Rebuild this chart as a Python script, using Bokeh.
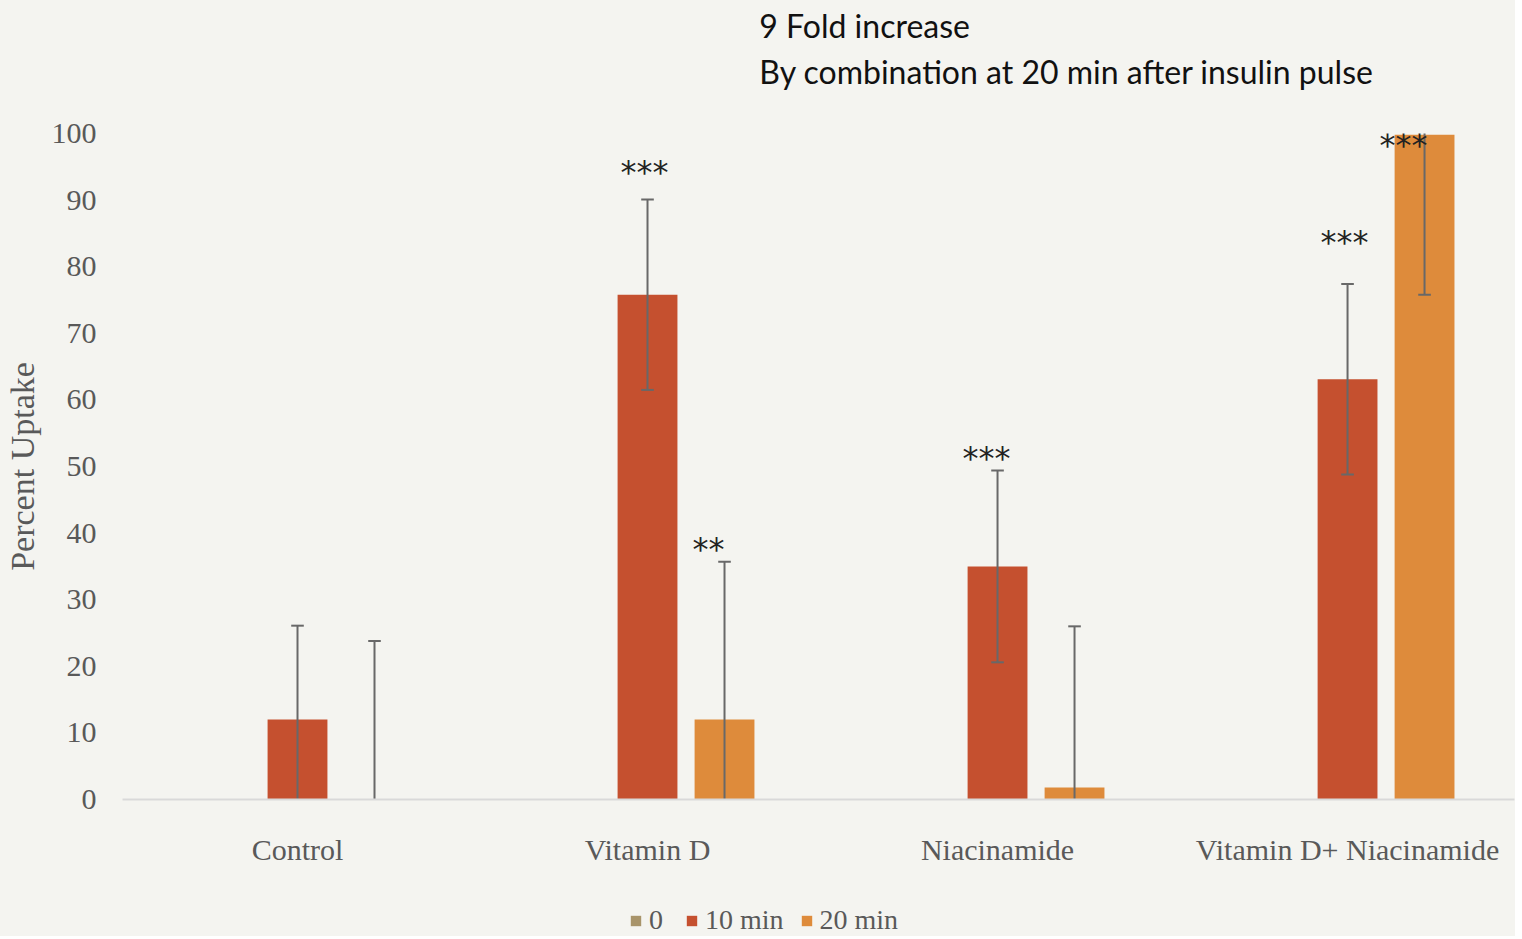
from bokeh.plotting import figure
from bokeh.layouts import column
from bokeh.models import (Range1d, FixedTicker, ColumnDataSource, LabelSet, Label,
                          Legend, LegendItem)
from bokeh.core.properties import value
from bokeh.embed import file_html
from bokeh.resources import INLINE

# ---------------- data ----------------
categories = ["Control", "Vitamin D", "Niacinamide", "Vitamin D+ Niacinamide"]
series_names = ["0", "10 min", "20 min"]
values_0 = [0.0, 0.0, 0.0, 0.0]
values_10 = [12.0, 75.8, 35.0, 63.1]
err_10 = [14.1, 14.3, 14.4, 14.3]
values_20 = [0.0, 12.0, 1.8, 99.8]
err_20 = [23.8, 23.7, 24.2, 24.0]
y_ticks = [0, 10, 20, 30, 40, 50, 60, 70, 80, 90, 100]

# significance marks: (category index, series index, text, height)
star_cat = [1, 1, 2, 3, 3]
star_series = [1, 2, 1, 1, 2]
star_text = ["***", "**", "***", "***", "***"]
star_y = [95.0, 38.3, 52.1, 84.4, 99.0]

title_lines = ["9 Fold increase", "By combination at 20 min after insulin pulse"]

# ---------------- style ----------------
BG = "#f4f4f0"
COL = ["#a8946a", "#c5502f", "#de8b3b"]
OFFS = [-0.22, 0.0, 0.22]
BAR_W = 0.171
ERR_COL = "#686868"
CAP = 0.018
SERIF = "Liberation Serif"
TXT = "#595959"
W = 1506
FW = 1392
TOP_H = 113

# ---------------- title strip ----------------
head = figure(width=W, height=TOP_H, output_backend="svg", toolbar_location=None,
              x_axis_type=None, y_axis_type=None, min_border=0,
              x_range=Range1d(0, FW), y_range=Range1d(TOP_H, 0))
head.background_fill_color = BG
head.border_fill_color = BG
head.outline_line_color = None
head.grid.visible = False
for line, yy in zip(title_lines, [25, 71]):
    head.add_layout(Label(x=641, y=yy, text=line, text_font="Lato",
                          text_font_size="32px", text_color="#111111",
                          text_baseline="alphabetic", text_align="left"))

# ---------------- chart ----------------
chart = figure(frame_width=FW, frame_height=666, output_backend="svg", toolbar_location=None,
               x_range=Range1d(0, 3.977), y_range=Range1d(0, 100),
               min_border_left=113, min_border_right=1, min_border_top=20,
               min_border_bottom=75)
chart.background_fill_color = BG
chart.border_fill_color = BG
chart.outline_line_color = None
chart.grid.visible = False

centers = [i + 0.5 for i in range(len(categories))]
series_vals = [values_0, values_10, values_20]
for k, vals in enumerate(series_vals):
    xs = [c + OFFS[k] for c in centers]
    src = ColumnDataSource(dict(x=xs, top=vals))
    chart.vbar(x="x", top="top", width=BAR_W, source=src,
               fill_color=COL[k], line_color=None)

# error bars
for k, (vals, errs) in enumerate([(values_10, err_10), (values_20, err_20)], start=1):
    xs = [c + OFFS[k] for c in centers]
    lo = [v - e for v, e in zip(vals, errs)]
    hi = [v + e for v, e in zip(vals, errs)]
    chart.segment(x0=xs, x1=xs, y0=lo, y1=hi, line_color=ERR_COL, line_width=2)
    chart.segment(x0=[x - CAP for x in xs], x1=[x + CAP for x in xs], y0=hi, y1=hi,
                  line_color=ERR_COL, line_width=2)
    chart.segment(x0=[x - CAP for x in xs], x1=[x + CAP for x in xs], y0=lo, y1=lo,
                  line_color=ERR_COL, line_width=2)

# stars
star_dx = [-3, -16, -11, -3, -21]
sx = [centers[c] + OFFS[s] for c, s in zip(star_cat, star_series)]
ssrc = ColumnDataSource(dict(x=sx, y=star_y, t=star_text, dx=star_dx))
chart.add_layout(LabelSet(x="x", y="y", text="t", x_offset="dx", y_offset=-5, source=ssrc,
                          text_align="center", text_baseline="middle",
                          text_font=value("DejaVu Sans"), text_font_size="32px",
                          text_color="#222222"))

# axes
chart.xaxis.ticker = FixedTicker(ticks=centers)
chart.xaxis.major_label_overrides = {c: n for c, n in zip(centers, categories)}
chart.xaxis.major_tick_line_color = None
chart.xaxis.minor_tick_line_color = None
chart.xaxis.axis_line_color = "#d9d9d9"
chart.xaxis.axis_line_width = 2
chart.xaxis.major_label_standoff = 27
chart.xaxis.major_label_text_font = SERIF
chart.xaxis.major_label_text_font_size = "30px"
chart.xaxis.major_label_text_color = TXT

chart.yaxis.ticker = FixedTicker(ticks=y_ticks)
chart.yaxis.axis_line_color = None
chart.yaxis.major_tick_line_color = None
chart.yaxis.minor_tick_line_color = None
chart.yaxis.major_label_standoff = 20
chart.yaxis.major_label_text_font = SERIF
chart.yaxis.major_label_text_font_size = "30px"
chart.yaxis.major_label_text_color = TXT
chart.yaxis.axis_label = "Percent Uptake"
chart.yaxis.axis_label_text_font = SERIF
chart.yaxis.axis_label_text_font_size = "34px"
chart.yaxis.axis_label_text_font_style = "normal"
chart.yaxis.axis_label_text_color = TXT
chart.yaxis.axis_label_standoff = 8

# ---------------- legend strip ----------------
leg = figure(width=W, height=62, output_backend="svg", toolbar_location=None,
             x_axis_type=None, y_axis_type=None, min_border=0,
             x_range=Range1d(0, 1), y_range=Range1d(0, 1))
leg.background_fill_color = BG
leg.border_fill_color = BG
leg.outline_line_color = None
leg.grid.visible = False
leg_renderers = []
for k in range(3):
    dummy = ColumnDataSource(dict(x=[0.5], top=[0.0]))
    leg_renderers.append(leg.vbar(x="x", top="top", width=0.01, source=dummy,
                                  fill_color=COL[k], line_color=None))
legend = Legend(items=[LegendItem(label=n, renderers=[r]) for n, r in zip(series_names, leg_renderers)],
                orientation="horizontal", location=(507, 0),
                label_text_font=SERIF, label_text_font_size="28px", label_text_color=TXT,
                glyph_width=13, glyph_height=13, label_standoff=7, spacing=16,
                background_fill_alpha=0, border_line_color=None, margin=0, padding=0)
leg.add_layout(legend)

p = column(head, chart, leg, spacing=0)
p.styles = {"background-color": BG}

open("out.html", "w").write(file_html(p, INLINE))
